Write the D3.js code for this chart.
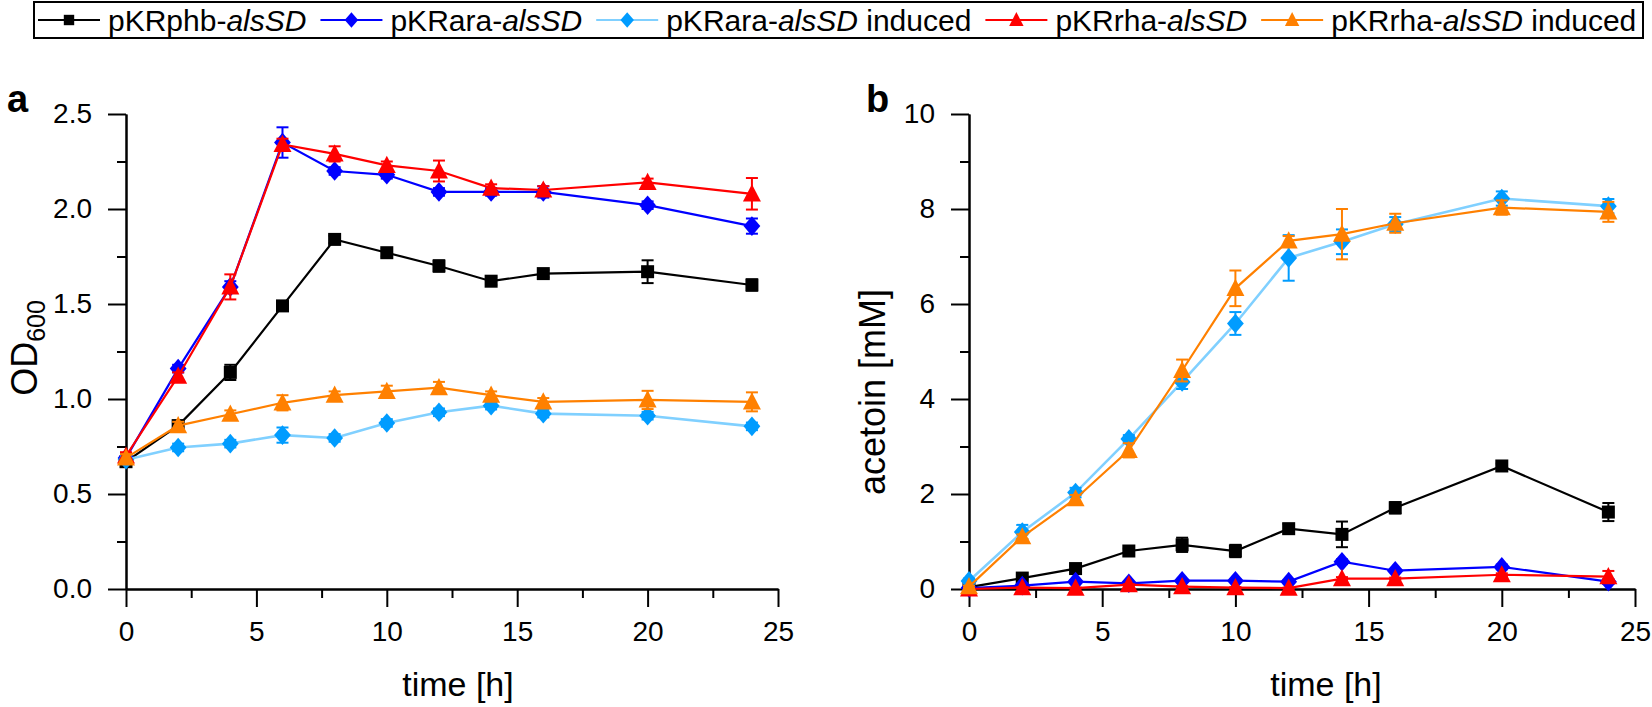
<!DOCTYPE html>
<html><head><meta charset="utf-8">
<script src="https://cdn.jsdelivr.net/npm/d3@7"></script>
<style>
html,body{margin:0;padding:0;background:#fff;}
svg{display:block;font-family:"Liberation Sans",Arial,sans-serif;}
</style></head>
<body>
<svg id="chart" width="1652" height="707"></svg>
<script>
// ---------- data ----------
const times = [0, 2, 4, 6, 8, 10, 12, 14, 16, 20, 24];
const seriesNames = ["pKRphb-", "pKRara-", "pKRara-", "pKRrha-", "pKRrha-"];
const seriesItalic = ["alsSD", "alsSD", "alsSD", "alsSD", "alsSD"];
const seriesSuffix = ["", "", " induced", "", " induced"];

// panel a: OD600
const odPhb = [0.67, 0.86, 1.14, 1.49, 1.84, 1.77, 1.70, 1.62, 1.66, 1.67, 1.60];
const odPhbErr = [0.02, 0.02, 0.04, 0.02, 0.02, 0.02, 0.03, 0.02, 0.02, 0.06, 0.03];
const odAra = [0.69, 1.16, 1.59, 2.35, 2.20, 2.18, 2.09, 2.09, 2.09, 2.02, 1.91];
const odAraErr = [0.02, 0.02, 0.03, 0.08, 0.02, 0.02, 0.02, 0.02, 0.03, 0.02, 0.04];
const odAraInd = [0.68, 0.745, 0.765, 0.81, 0.795, 0.874, 0.93, 0.965, 0.923, 0.912, 0.856];
const odAraIndErr = [0.02, 0.02, 0.02, 0.04, 0.02, 0.02, 0.02, 0.02, 0.02, 0.02, 0.02];
const odRha = [0.70, 1.12, 1.59, 2.34, 2.29, 2.23, 2.20, 2.11, 2.10, 2.14, 2.08];
const odRhaErr = [0.02, 0.02, 0.066, 0.03, 0.04, 0.02, 0.055, 0.02, 0.02, 0.02, 0.083];
const odRhaInd = [0.69, 0.86, 0.92, 0.98, 1.02, 1.04, 1.06, 1.02, 0.985, 0.995, 0.985];
const odRhaIndErr = [0.02, 0.02, 0.02, 0.04, 0.02, 0.03, 0.03, 0.02, 0.02, 0.048, 0.05];

// panel b: acetoin [mM]
const acPhb = [0.04, 0.23, 0.43, 0.80, 0.93, 0.80, 1.27, 1.15, 1.71, 2.59, 1.62];
const acPhbErr = [0.02, 0.03, 0.05, 0.05, 0.15, 0.13, 0.10, 0.27, 0.12, 0.05, 0.19];
const acAra = [0.02, 0.07, 0.155, 0.12, 0.175, 0.175, 0.155, 0.575, 0.385, 0.465, 0.155];
const acAraErr = [0.02, 0.02, 0.03, 0.03, 0.03, 0.03, 0.03, 0.05, 0.03, 0.05, 0.05];
const acAraInd = [0.17, 1.2, 2.03, 3.16, 4.36, 5.59, 6.97, 7.31, 7.68, 8.22, 8.06];
const acAraIndErr = [0.05, 0.15, 0.10, 0.08, 0.15, 0.24, 0.48, 0.26, 0.15, 0.15, 0.15];
const acRha = [0.0, 0.03, 0.02, 0.09, 0.05, 0.03, 0.02, 0.22, 0.22, 0.30, 0.26];
const acRhaErr = [0.01, 0.01, 0.01, 0.01, 0.01, 0.01, 0.01, 0.03, 0.02, 0.03, 0.12];
const acRhaInd = [0.05, 1.1, 1.9, 2.92, 4.6, 6.33, 7.33, 7.47, 7.7, 8.03, 7.94];
const acRhaIndErr = [0.02, 0.05, 0.08, 0.15, 0.23, 0.375, 0.10, 0.53, 0.20, 0.15, 0.21];

const xTicks = [0, 5, 10, 15, 20, 25];
const xMinor = [2.5, 7.5, 12.5, 17.5, 22.5];
const odTicks = [0, 0.5, 1.0, 1.5, 2.0, 2.5];
const odMinor = [0.25, 0.75, 1.25, 1.75, 2.25];
const acTicks = [0, 2, 4, 6, 8, 10];
const acMinor = [1, 3, 5, 7, 9];

// ---------- styles ----------
const lineColors = ["#000000", "#0000ff", "#80d0ff", "#ff0000", "#ff8000"];
const markColors = ["#000000", "#0000ff", "#009cff", "#ff0000", "#ff8000"];
const shapes = ["square", "diamond", "diamond", "triangle", "triangle"];

function markerPath(shape, s) {
  const p = d3.path();
  if (shape === "square") { const h = 6.5 * s; p.rect(-h, -h, 2 * h, 2 * h); }
  else if (shape === "diamond") { const w = 8.4 * s, h = 9.8 * s; p.moveTo(0, -h); p.lineTo(w, 0); p.lineTo(0, h); p.lineTo(-w, 0); p.closePath(); }
  else { const w = 9 * s, h = 8.6 * s; p.moveTo(0, -h - 1); p.lineTo(w, h - 1); p.lineTo(-w, h - 1); p.closePath(); }
  return p.toString();
}

const svg = d3.select("#chart");
const FONT_TICK = 28, FONT_TITLE = 34;

function panel(cfg) {
  const x = d3.scaleLinear().domain([0, 25]).range([cfg.x0, cfg.x1]);
  const y = d3.scaleLinear().domain(cfg.yDomain).range([589, 114]);
  const g = svg.append("g");

  // axes
  g.append("g").attr("transform", "translate(0,589)")
    .call(d3.axisBottom(x).tickValues(xTicks).tickSize(18).tickSizeOuter(0).tickPadding(14).tickFormat(d3.format("d")));
  g.append("g").attr("transform", "translate(0,589)")
    .call(d3.axisBottom(x).tickValues(xMinor).tickSize(9).tickSizeOuter(0).tickFormat(""));
  g.append("g").attr("transform", `translate(${cfg.x0},0)`)
    .call(d3.axisLeft(y).tickValues(cfg.yTicks).tickSize(18).tickSizeOuter(0).tickPadding(16).tickFormat(cfg.yFmt));
  g.append("g").attr("transform", `translate(${cfg.x0},0)`)
    .call(d3.axisLeft(y).tickValues(cfg.yMinor).tickSize(9).tickSizeOuter(0).tickFormat(""));
  g.selectAll(".domain").attr("stroke", "#000").attr("stroke-width", 2);
  g.selectAll(".tick line").attr("stroke", "#000").attr("stroke-width", 2);
  g.selectAll(".tick text").attr("font-size", FONT_TICK).attr("fill", "#000")
    .attr("font-family", '"Liberation Sans",Arial,sans-serif');

  // series
  cfg.series.forEach((vals, i) => {
    const err = cfg.errs[i];
    const sg = g.append("g");
    const line = d3.line().x((d, k) => x(times[k])).y(d => y(d));
    sg.append("path").datum(vals).attr("d", line).attr("fill", "none")
      .attr("stroke", lineColors[i]).attr("stroke-width", i === 2 ? 2.6 : 2.2);
    const eb = sg.selectAll(".eb").data(vals).enter().append("g");
    eb.append("line").attr("x1", (d, k) => x(times[k])).attr("x2", (d, k) => x(times[k]))
      .attr("y1", (d, k) => y(d + err[k])).attr("y2", (d, k) => y(d - err[k]));
    eb.append("line").attr("x1", (d, k) => x(times[k]) - 6).attr("x2", (d, k) => x(times[k]) + 6)
      .attr("y1", (d, k) => y(d + err[k])).attr("y2", (d, k) => y(d + err[k]));
    eb.append("line").attr("x1", (d, k) => x(times[k]) - 6).attr("x2", (d, k) => x(times[k]) + 6)
      .attr("y1", (d, k) => y(d - err[k])).attr("y2", (d, k) => y(d - err[k]));
    eb.selectAll("line").attr("stroke", markColors[i]).attr("stroke-width", 2);
    sg.selectAll(".mk").data(vals).enter().append("path")
      .attr("d", markerPath(shapes[i], 1))
      .attr("transform", (d, k) => `translate(${x(times[k])},${y(d)})`)
      .attr("fill", markColors[i]);
  });

  // panel letter
  g.append("text").attr("x", cfg.letterX).attr("y", 112).attr("font-size", 38).attr("font-weight", "bold")
    .text(cfg.letter);
  // x title
  g.append("text").attr("x", cfg.xTitleX).attr("y", 696).attr("text-anchor", "middle")
    .attr("font-size", FONT_TITLE).text("time [h]");
  return { g, x, y };
}

// Panel a
const pa = panel({
  x0: 126, x1: 778, yDomain: [0, 2.5], yTicks: odTicks, yMinor: odMinor, yFmt: d3.format(".1f"),
  series: [odPhb, odAra, odAraInd, odRha, odRhaInd],
  errs: [odPhbErr, odAraErr, odAraIndErr, odRhaErr, odRhaIndErr],
  letter: "a", letterX: 7, xTitleX: 458
});
const ta = pa.g.append("text").attr("transform", "translate(37,348) rotate(-90)")
  .attr("text-anchor", "middle").attr("font-size", 36);
ta.append("tspan").text("OD");
ta.append("tspan").attr("font-size", 25).attr("dy", 8).text("600");

// Panel b
const pb = panel({
  x0: 969, x1: 1635, yDomain: [0, 10], yTicks: acTicks, yMinor: acMinor, yFmt: d3.format("d"),
  series: [acPhb, acAra, acAraInd, acRha, acRhaInd],
  errs: [acPhbErr, acAraErr, acAraIndErr, acRhaErr, acRhaIndErr],
  letter: "b", letterX: 866, xTitleX: 1326
});
pb.g.append("text").attr("transform", "translate(885,392) rotate(-90)")
  .attr("text-anchor", "middle").attr("font-size", 36).text("acetoin [mM]");

// ---------- legend ----------
const lg = svg.append("g");
lg.append("rect").attr("x", 34).attr("y", 2).attr("width", 1609).attr("height", 36)
  .attr("fill", "#fff").attr("stroke", "#000").attr("stroke-width", 2);
let cx = 38;
seriesNames.forEach((nm, i) => {
  lg.append("line").attr("x1", cx).attr("x2", cx + 62).attr("y1", 20).attr("y2", 20)
    .attr("stroke", lineColors[i]).attr("stroke-width", 2.2);
  lg.append("path").attr("d", markerPath(shapes[i], 0.8)).attr("transform", `translate(${cx + 31},20)`)
    .attr("fill", markColors[i]);
  const t = lg.append("text").attr("x", cx + 70).attr("y", 31).attr("font-size", 30);
  t.append("tspan").text(nm);
  t.append("tspan").attr("font-style", "italic").text(seriesItalic[i]);
  t.append("tspan").text(seriesSuffix[i]);
  cx += 70 + t.node().getComputedTextLength() + 14;
});
</script>
</body></html>
